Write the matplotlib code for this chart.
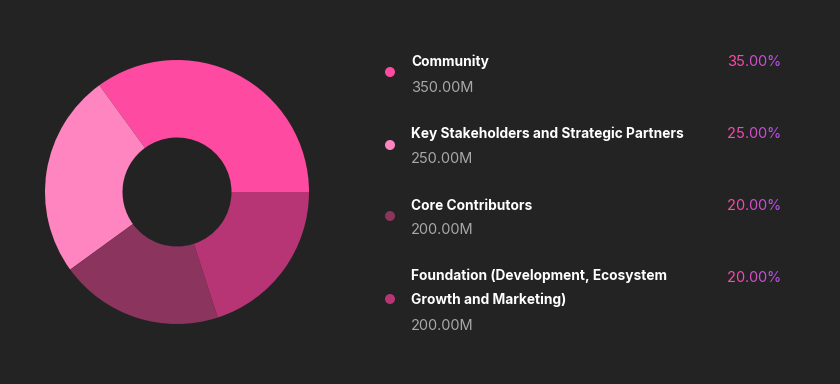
import matplotlib.pyplot as plt
import numpy as np
from matplotlib.colors import to_rgb
from matplotlib.patches import Ellipse

plt.rcParams['font.family'] = ['Inter', 'DejaVu Sans']

labels = ["Community", "Key Stakeholders and Strategic Partners", "Core Contributors",
          "Foundation (Development, Ecosystem\nGrowth and Marketing)"]
amounts = [350.0, 250.0, 200.0, 200.0]  # millions
shares = [35.0, 25.0, 20.0, 20.0]
colors = ["#ff4aa1", "#ff85c0", "#8b345e", "#b73574"]

bg = "#232323"
W, H = 840, 384
fig = plt.figure(figsize=(W / 100, H / 100), dpi=100)
fig.set_facecolor(bg)

# donut
cx, cy, r_out, r_in = 177, 192, 132, 54.5
ax = fig.add_axes([(cx - r_out) / W, (H - cy - r_out) / H, 2 * r_out / W, 2 * r_out / H])
ax.set_facecolor(bg)
ax.pie(amounts, colors=colors, startangle=0, counterclock=True, radius=1,
       wedgeprops=dict(width=1 - r_in / r_out, edgecolor="none", linewidth=0))
ax.set_xlim(-1, 1)
ax.set_ylim(-1, 1)
ax.set_aspect("equal")
ax.axis("off")

def px(x, y):
    return x / W, 1 - y / H

# legend rows: title y, value y, dot y
rows = [(61.5, 87.5, 72), (133.5, 159.5, 145), (205.5, 230.5, 216), (288, 325.5, 299)]
fs_title, fs_val, fs_pct = 9.9, 10.5, 10.5

c0, c1 = np.array(to_rgb("#ff4aa6")), np.array(to_rgb("#b84fe0"))
fig.canvas.draw()
renderer = fig.canvas.get_renderer()

for i, (lab, amt, sh, col) in enumerate(zip(labels, amounts, shares, colors)):
    ty, vy, dy = rows[i]
    fig.text(*px(411, ty), lab, color="white", fontsize=fs_title, fontweight="bold",
             va="center", ha="left", linespacing=1.85)
    fig.text(*px(411, vy), f"{amt:.2f}M", color="#a8a8a8", fontsize=fs_val,
             va="center", ha="left")
    fig.add_artist(Ellipse(px(390, dy), 10 / W, 10 / H, transform=fig.transFigure,
                           color=col, lw=0))
    # gradient percentage text, right aligned at x=781
    s = f"{sh:.2f}%"
    ptop = 61.5 + 72 * i
    full = fig.text(0, 0, s, fontsize=fs_pct)
    wfull = full.get_window_extent(renderer).width
    full.remove()
    x = 781 - wfull
    for k, ch in enumerate(s):
        t = k / max(len(s) - 1, 1)
        c = c0 * (1 - t) + c1 * t
        prefix = fig.text(0, 0, s[:k], fontsize=fs_pct)
        off = prefix.get_window_extent(renderer).width if k else 0
        prefix.remove()
        fig.text(*px(x + off, ptop), ch, color=c, fontsize=fs_pct, va="center", ha="left")

fig.savefig("out.png", dpi=100, facecolor=bg)
